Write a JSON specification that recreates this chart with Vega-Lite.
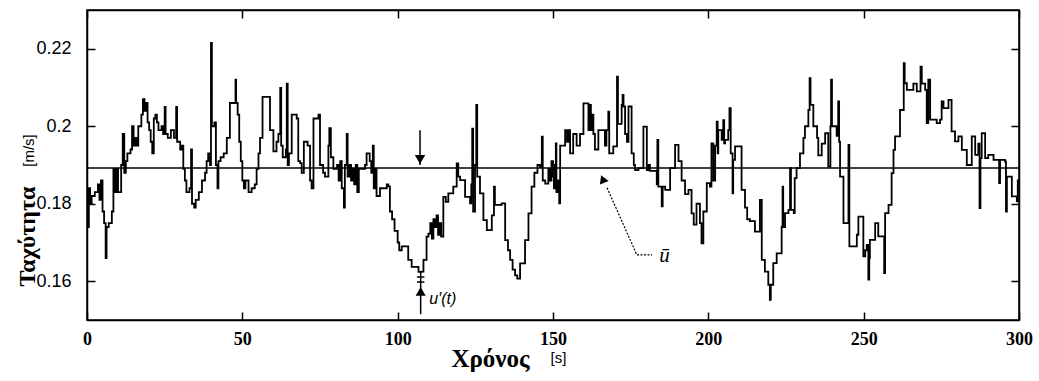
{
  "$schema": "https://vega.github.io/schema/vega-lite/v6.json",
  "width": 932,
  "height": 310,
  "autosize": {"type": "none"},
  "padding": {"left": 87, "top": 10, "right": 20, "bottom": 61},
  "background": "white",
  "view": {"stroke": "black", "strokeWidth": 1.5},
  "config": {
    "axis": {"grid": false, "domainColor": "black", "domainWidth": 1.5, "tickColor": "black", "tickWidth": 1.5, "labelColor": "black", "titleColor": "black"}
  },
  "datasets": {
    "speed": [
      {"t":0,"v":0.181},{"t":0.3,"v":0.174},{"t":0.6,"v":0.184},{"t":1.0,"v":0.180},{"t":1.5,"v":0.182},{"t":2.5,"v":0.183},{"t":3.5,"v":0.185},{"t":4.0,"v":0.181},{"t":4.5,"v":0.186},{"t":5.0,"v":0.178},{"t":5.5,"v":0.175},{"t":6.0,"v":0.166},{"t":6.3,"v":0.174},{"t":7.0,"v":0.175},{"t":8.0,"v":0.178},{"t":8.5,"v":0.189},{"t":9.0,"v":0.183},{"t":9.5,"v":0.189},{"t":10.0,"v":0.183},{"t":11.0,"v":0.190},{"t":11.5,"v":0.198},{"t":12.0,"v":0.188},{"t":12.5,"v":0.191},{"t":13.0,"v":0.193},{"t":14.0,"v":0.194},{"t":14.5,"v":0.200},{"t":15.0,"v":0.195},{"t":15.5,"v":0.197},{"t":16.0,"v":0.195},{"t":16.5,"v":0.200},{"t":17.5,"v":0.203},{"t":18.0,"v":0.207},{"t":18.5,"v":0.204},{"t":19.0,"v":0.206},{"t":19.5,"v":0.201},{"t":20.0,"v":0.199},{"t":20.5,"v":0.196},{"t":21.0,"v":0.193},{"t":21.5,"v":0.202},{"t":22.0,"v":0.203},{"t":22.5,"v":0.201},{"t":23.0,"v":0.199},{"t":24.0,"v":0.200},{"t":24.5,"v":0.198},{"t":25.0,"v":0.205},{"t":25.3,"v":0.198},{"t":26.0,"v":0.197},{"t":27.0,"v":0.199},{"t":28.0,"v":0.197},{"t":28.7,"v":0.205},{"t":29.0,"v":0.196},{"t":30.0,"v":0.194},{"t":30.5,"v":0.195},{"t":31.0,"v":0.189},{"t":31.5,"v":0.186},{"t":32.0,"v":0.183},{"t":33.0,"v":0.184},{"t":33.5,"v":0.194},{"t":33.8,"v":0.180},{"t":34.5,"v":0.179},{"t":35.0,"v":0.181},{"t":36.0,"v":0.183},{"t":37.0,"v":0.186},{"t":38.0,"v":0.188},{"t":38.5,"v":0.191},{"t":39.0,"v":0.193},{"t":39.6,"v":0.190},{"t":39.9,"v":0.2215},{"t":40.2,"v":0.200},{"t":41.0,"v":0.201},{"t":41.5,"v":0.190},{"t":42.0,"v":0.184},{"t":42.3,"v":0.191},{"t":43.0,"v":0.192},{"t":44.0,"v":0.193},{"t":45.0,"v":0.197},{"t":46.0,"v":0.206},{"t":47.0,"v":0.206},{"t":47.8,"v":0.212},{"t":48.0,"v":0.206},{"t":48.5,"v":0.203},{"t":49.0,"v":0.196},{"t":49.5,"v":0.191},{"t":50.0,"v":0.186},
      {"t":50.5,"v":0.184},{"t":51.0,"v":0.186},{"t":52.0,"v":0.183},{"t":53.0,"v":0.184},{"t":54.0,"v":0.185},{"t":54.6,"v":0.189},{"t":55.2,"v":0.193},{"t":55.7,"v":0.197},{"t":56.5,"v":0.2076},{"t":58.9,"v":0.199},{"t":60.0,"v":0.1935},{"t":61.0,"v":0.196},{"t":61.6,"v":0.198},{"t":62.2,"v":0.2099},{"t":62.5,"v":0.195},{"t":63.0,"v":0.192},{"t":64.0,"v":0.194},{"t":64.3,"v":0.211},{"t":64.6,"v":0.190},{"t":65.0,"v":0.193},{"t":65.9,"v":0.203},{"t":67.5,"v":0.202},{"t":68.0,"v":0.191},{"t":68.6,"v":0.1905},{"t":69.1,"v":0.188},{"t":69.8,"v":0.196},{"t":71.0,"v":0.195},{"t":71.8,"v":0.186},{"t":72.3,"v":0.184},{"t":72.9,"v":0.202},{"t":74.5,"v":0.203},{"t":75.0,"v":0.190},{"t":76.0,"v":0.188},{"t":76.6,"v":0.187},{"t":77.7,"v":0.195},{"t":78.0,"v":0.1995},{"t":78.5,"v":0.192},{"t":79.3,"v":0.189},{"t":80.5,"v":0.190},{"t":81.0,"v":0.186},{"t":81.5,"v":0.191},{"t":82.0,"v":0.184},{"t":82.7,"v":0.179},{"t":83.0,"v":0.190},{"t":83.6,"v":0.198},{"t":83.9,"v":0.187},{"t":84.5,"v":0.190},{"t":85.0,"v":0.186},{"t":85.5,"v":0.189},{"t":86.0,"v":0.185},{"t":86.5,"v":0.190},{"t":87.0,"v":0.183},{"t":87.5,"v":0.189},{"t":88.5,"v":0.189},{"t":89.5,"v":0.190},{"t":90.0,"v":0.193},{"t":91.0,"v":0.191},{"t":91.5,"v":0.188},{"t":92.0,"v":0.195},{"t":92.3,"v":0.184},{"t":92.8,"v":0.189},{"t":93.2,"v":0.182},{"t":94.3,"v":0.184},{"t":96.5,"v":0.185},{"t":97.0,"v":0.1845},{"t":97.5,"v":0.178},{"t":98.2,"v":0.176},{"t":99.0,"v":0.173},{"t":100.0,"v":0.170},
      {"t":100.5,"v":0.168},{"t":101.3,"v":0.169},{"t":103.4,"v":0.1655},{"t":104.5,"v":0.1637},{"t":106.7,"v":0.1624},{"t":107.7,"v":0.1625},{"t":108.3,"v":0.1655},{"t":109.3,"v":0.1715},{"t":109.9,"v":0.1723},{"t":110.5,"v":0.175},{"t":111.0,"v":0.171},{"t":111.5,"v":0.176},{"t":112.0,"v":0.174},{"t":112.5,"v":0.177},{"t":113.0,"v":0.172},{"t":113.5,"v":0.175},{"t":114.0,"v":0.1715},{"t":114.7,"v":0.1818},{"t":115.5,"v":0.1805},{"t":116.3,"v":0.1827},{"t":117.9,"v":0.1844},{"t":119.0,"v":0.1904},{"t":119.5,"v":0.187},{"t":120.1,"v":0.1861},{"t":121.7,"v":0.1818},{"t":123.3,"v":0.1801},{"t":123.7,"v":0.185},{"t":124.0,"v":0.1994},{"t":124.3,"v":0.178},{"t":124.9,"v":0.19},{"t":125.3,"v":0.2055},{"t":125.6,"v":0.187},{"t":126.5,"v":0.1827},{"t":127.6,"v":0.1758},{"t":128.7,"v":0.1732},{"t":130.3,"v":0.177},{"t":131.0,"v":0.1844},{"t":131.3,"v":0.1797},{"t":133.5,"v":0.1801},{"t":134.6,"v":0.1706},{"t":135.5,"v":0.168},{"t":136.2,"v":0.1655},{"t":137.0,"v":0.163},{"t":137.8,"v":0.1615},{"t":138.5,"v":0.1607},{"t":139.4,"v":0.1646},{"t":141.0,"v":0.1706},{"t":142.1,"v":0.1775},{"t":143.1,"v":0.1844},{"t":144.0,"v":0.188},{"t":145.0,"v":0.190},{"t":145.8,"v":0.1895},{"t":146.4,"v":0.1973},{"t":146.7,"v":0.186},{"t":147.5,"v":0.1852},{"t":148.5,"v":0.189},{"t":149.0,"v":0.186},{"t":149.5,"v":0.191},{"t":150.0,"v":0.187},
      {"t":150.3,"v":0.184},{"t":150.6,"v":0.190},{"t":150.9,"v":0.1956},{"t":151.1,"v":0.183},{"t":151.6,"v":0.186},{"t":152.0,"v":0.1801},{"t":152.3,"v":0.195},{"t":153.9,"v":0.199},{"t":154.5,"v":0.196},{"t":155.0,"v":0.199},{"t":155.5,"v":0.193},{"t":156.5,"v":0.198},{"t":157.6,"v":0.195},{"t":158.7,"v":0.198},{"t":159.8,"v":0.2059},{"t":161.4,"v":0.199},{"t":161.7,"v":0.2055},{"t":162.2,"v":0.199},{"t":162.7,"v":0.203},{"t":163.0,"v":0.198},{"t":163.5,"v":0.194},{"t":164.6,"v":0.199},{"t":166.7,"v":0.195},{"t":167.2,"v":0.199},{"t":167.8,"v":0.2038},{"t":168.1,"v":0.193},{"t":169.4,"v":0.1948},{"t":170.6,"v":0.2128},{"t":170.9,"v":0.2006},{"t":172.1,"v":0.2055},{"t":172.4,"v":0.2081},{"t":172.7,"v":0.2051},{"t":173.2,"v":0.198},{"t":173.8,"v":0.196},{"t":174.3,"v":0.2051},{"t":175.3,"v":0.193},{"t":176.0,"v":0.190},{"t":176.4,"v":0.1887},{"t":177.5,"v":0.1892},{"t":179.1,"v":0.1999},{"t":180.2,"v":0.1887},{"t":180.8,"v":0.190},{"t":181.2,"v":0.1885},{"t":183.4,"v":0.185},{"t":183.6,"v":0.1965},{"t":183.9,"v":0.1844},{"t":185.0,"v":0.1793},{"t":185.3,"v":0.1844},{"t":186.1,"v":0.1836},{"t":187.7,"v":0.1892},{"t":189.3,"v":0.1952},{"t":190.4,"v":0.191},{"t":191.4,"v":0.186},{"t":192.5,"v":0.1825},{"t":193.6,"v":0.1836},{"t":194.6,"v":0.1775},{"t":195.3,"v":0.1746},{"t":196.2,"v":0.180},{"t":197.3,"v":0.175},{"t":197.8,"v":0.1698},{"t":198.4,"v":0.178},{"t":199.5,"v":0.1853},{"t":200.5,"v":0.1844},{"t":201.0,"v":0.1956},
      {"t":201.6,"v":0.186},{"t":202.2,"v":0.195},{"t":202.7,"v":0.2012},{"t":203.0,"v":0.193},{"t":203.2,"v":0.199},{"t":204.3,"v":0.1965},{"t":204.8,"v":0.2016},{"t":205.1,"v":0.1956},{"t":205.4,"v":0.1965},{"t":206.4,"v":0.199},{"t":206.8,"v":0.2047},{"t":207.2,"v":0.193},{"t":207.8,"v":0.1827},{"t":208.0,"v":0.1913},{"t":208.6,"v":0.1948},{"t":210.7,"v":0.1836},{"t":211.8,"v":0.179},{"t":212.5,"v":0.176},{"t":213.4,"v":0.1755},{"t":215.0,"v":0.1728},{"t":216.6,"v":0.181},{"t":217.2,"v":0.1655},{"t":218.2,"v":0.1625},{"t":219.3,"v":0.1591},{"t":219.8,"v":0.1552},{"t":220.1,"v":0.1591},{"t":220.9,"v":0.1647},{"t":222.0,"v":0.1672},{"t":223.6,"v":0.1741},{"t":223.9,"v":0.1844},{"t":224.1,"v":0.174},{"t":224.7,"v":0.1776},{"t":225.8,"v":0.1784},{"t":226.3,"v":0.1892},{"t":226.6,"v":0.1784},{"t":227.5,"v":0.1776},{"t":227.8,"v":0.1866},{"t":228.4,"v":0.1892},{"t":229.5,"v":0.193},{"t":230.6,"v":0.197},{"t":231.1,"v":0.2},{"t":232.2,"v":0.2042},{"t":232.6,"v":0.2124},{"t":232.9,"v":0.2055},{"t":233.8,"v":0.2},{"t":235.0,"v":0.197},{"t":235.4,"v":0.1925},{"t":236.5,"v":0.1955},{"t":237.6,"v":0.1982},{"t":238.6,"v":0.1896},{"t":239.3,"v":0.2},{"t":239.5,"v":0.212},{"t":239.8,"v":0.2},{"t":241.3,"v":0.1975},{"t":241.8,"v":0.2064},{"t":242.1,"v":0.196},{"t":242.4,"v":0.187},{"t":243.5,"v":0.175},{"t":245.1,"v":0.1952},{"t":245.4,"v":0.169},{"t":247.8,"v":0.172},{"t":248.3,"v":0.1767},{"t":249.9,"v":0.1664},{"t":250.5,"v":0.168},
      {"t":251.0,"v":0.1694},{"t":251.5,"v":0.1604},{"t":251.8,"v":0.166},{"t":252.0,"v":0.1707},{"t":253.7,"v":0.175},{"t":254.7,"v":0.1716},{"t":256.6,"v":0.1621},{"t":256.9,"v":0.1776},{"t":258.0,"v":0.1797},{"t":259.0,"v":0.1879},{"t":259.6,"v":0.1939},{"t":260.1,"v":0.1974},{"t":261.7,"v":0.2042},{"t":262.9,"v":0.2163},{"t":263.2,"v":0.2111},{"t":263.9,"v":0.2094},{"t":266.0,"v":0.211},{"t":267.1,"v":0.209},{"t":268.3,"v":0.2154},{"t":268.7,"v":0.211},{"t":269.8,"v":0.2094},{"t":270.3,"v":0.2008},{"t":270.8,"v":0.212},{"t":271.4,"v":0.2017},{"t":273.5,"v":0.2008},{"t":274.6,"v":0.2017},{"t":275.1,"v":0.2064},{"t":275.7,"v":0.2047},{"t":277.3,"v":0.2068},{"t":278.3,"v":0.1987},{"t":279.4,"v":0.1961},{"t":280.5,"v":0.1974},{"t":281.6,"v":0.1939},{"t":283.2,"v":0.19},{"t":284.8,"v":0.1974},{"t":285.9,"v":0.1926},{"t":286.9,"v":0.1955},{"t":287.3,"v":0.1789},{"t":287.6,"v":0.1918},{"t":288.0,"v":0.1982},{"t":289.1,"v":0.1918},{"t":290.1,"v":0.1926},{"t":291.8,"v":0.1913},{"t":293.6,"v":0.1853},{"t":293.9,"v":0.1913},{"t":295.5,"v":0.1909},{"t":295.8,"v":0.178},{"t":296.1,"v":0.187},{"t":297.7,"v":0.1819},{"t":299.3,"v":0.1806},{"t":299.6,"v":0.186},{"t":300,"v":0.184}
    ],
    "mean": [{"v": 0.1892}],
    "downArrow": [{"t": 107.2, "v": 0.1990, "v2": 0.1900}],
    "downHead": [{"t": 107.2, "v": 0.1914}],
    "uStem": [{"t": 107.4, "v": 0.1515, "v2": 0.1625}],
    "uBars": [{"t": 106.2, "t2": 108.6, "v": 0.1611}, {"t": 106.2, "t2": 108.6, "v": 0.1598}],
    "uHead": [{"t": 107.4, "v": 0.1574}],
    "uLabel": [{"t": 110.2, "v": 0.1553, "label": "u′(t)"}],
    "leader": [{"t": 167.4, "v": 0.1841, "o": 1}, {"t": 177.0, "v": 0.1668, "o": 2}, {"t": 181.9, "v": 0.1668, "o": 3}],
    "leaderHead": [{"t": 166.0, "v": 0.1864}],
    "meanLabel": [{"t": 184.2, "v": 0.1666, "label": "ū"}]
  },
  "layer": [
    {
      "data": {"name": "speed"},
      "mark": {"type": "line", "interpolate": "step-after", "color": "black", "strokeWidth": 1.8},
      "encoding": {
        "x": {"field": "t", "type": "quantitative", "scale": {"domain": [0, 300], "nice": false, "zero": false},
          "axis": {"orient": "bottom", "values": [0, 50, 100, 150, 200, 250, 300], "tickSize": -8, "labelFont": "Liberation Serif", "labelFontWeight": "bold", "labelFontSize": 18, "labelPadding": 18, "labelFlush": false,
            "title": "Χρόνος", "titleColor": "black", "titleFont": "Liberation Serif", "titleFontWeight": "bold", "titleFontSize": 25, "titleX": 403, "titleY": 38, "titleBaseline": "middle", "titleAlign": "center"}},
        "y": {"field": "v", "type": "quantitative", "scale": {"domain": [0.15, 0.23], "nice": false, "zero": false},
          "axis": {"orient": "left", "values": [0.16, 0.18, 0.2, 0.22], "format": ".2~f", "tickSize": -8, "labelFont": "Liberation Sans", "labelFontSize": 18, "labelPadding": 24,
            "title": "Ταχύτητα", "titleColor": "black", "titleFont": "Liberation Serif", "titleFontWeight": "bold", "titleFontSize": 24, "titleX": -60, "titleY": 226, "titleBaseline": "middle", "titleAlign": "center", "titleAngle": 270}}
      }
    },
    {
      "data": {"name": "mean"},
      "mark": {"type": "rule", "color": "black", "strokeWidth": 1.5},
      "encoding": {"y": {"field": "v", "type": "quantitative", "axis": null}}
    },
    {
      "data": {"name": "downArrow"},
      "mark": {"type": "rule", "color": "black", "strokeWidth": 1.5},
      "encoding": {
        "x": {"field": "t", "type": "quantitative", "axis": {"orient": "top", "values": [0, 50, 100, 150, 200, 250, 300], "tickSize": -8, "labels": false, "title": null, "offset": 0}},
        "y": {"field": "v", "type": "quantitative", "axis": {"orient": "right", "values": [0.16, 0.18, 0.2, 0.22], "tickSize": -8, "labels": false, "title": null, "offset": 0}},
        "y2": {"field": "v2"}
      }
    },
    {
      "data": {"name": "downHead"},
      "mark": {"type": "point", "shape": "triangle-down", "filled": true, "color": "black", "size": 110, "opacity": 1},
      "encoding": {"x": {"field": "t", "type": "quantitative", "axis": null}, "y": {"field": "v", "type": "quantitative", "axis": null}}
    },
    {
      "data": {"name": "uStem"},
      "mark": {"type": "rule", "color": "black", "strokeWidth": 1.5},
      "encoding": {"x": {"field": "t", "type": "quantitative", "axis": null}, "y": {"field": "v", "type": "quantitative", "axis": null}, "y2": {"field": "v2"}}
    },
    {
      "data": {"name": "uBars"},
      "mark": {"type": "rule", "color": "black", "strokeWidth": 1.5},
      "encoding": {"x": {"field": "t", "type": "quantitative", "axis": null}, "x2": {"field": "t2"}, "y": {"field": "v", "type": "quantitative", "axis": null}}
    },
    {
      "data": {"name": "uHead"},
      "mark": {"type": "point", "shape": "triangle-up", "filled": true, "color": "black", "size": 100, "opacity": 1},
      "encoding": {"x": {"field": "t", "type": "quantitative", "axis": null}, "y": {"field": "v", "type": "quantitative", "axis": null}}
    },
    {
      "data": {"name": "uLabel"},
      "mark": {"type": "text", "align": "left", "baseline": "middle", "font": "Liberation Sans", "fontStyle": "italic", "fontSize": 16, "color": "black"},
      "encoding": {
        "x": {"field": "t", "type": "quantitative", "axis": {"orient": "bottom", "offset": 0, "domain": false, "ticks": false, "labels": false, "title": "[s]", "titleColor": "black", "titleFont": "Liberation Sans", "titleFontWeight": "normal", "titleFontSize": 15, "titleX": 471, "titleY": 37, "titleBaseline": "middle", "titleAlign": "center"}},
        "y": {"field": "v", "type": "quantitative", "axis": {"orient": "left", "offset": 0, "domain": false, "ticks": false, "labels": false, "title": "[m/s]", "titleColor": "black", "titleFont": "Liberation Sans", "titleFontWeight": "normal", "titleFontSize": 15, "titleX": -59, "titleY": 140, "titleBaseline": "middle", "titleAlign": "center", "titleAngle": 270}},
        "text": {"field": "label"}
      }
    },
    {
      "data": {"name": "leader"},
      "mark": {"type": "line", "color": "black", "strokeWidth": 1.2, "strokeDash": [2, 1.5]},
      "encoding": {"x": {"field": "t", "type": "quantitative", "axis": null}, "y": {"field": "v", "type": "quantitative", "axis": null}, "order": {"field": "o"}}
    },
    {
      "data": {"name": "leaderHead"},
      "mark": {"type": "point", "shape": "triangle-up", "filled": true, "color": "black", "size": 90, "opacity": 1, "angle": 337},
      "encoding": {"x": {"field": "t", "type": "quantitative", "axis": null}, "y": {"field": "v", "type": "quantitative", "axis": null}}
    },
    {
      "data": {"name": "meanLabel"},
      "mark": {"type": "text", "align": "left", "baseline": "middle", "font": "Liberation Serif", "fontStyle": "italic", "fontSize": 21, "color": "black"},
      "encoding": {"x": {"field": "t", "type": "quantitative", "axis": null}, "y": {"field": "v", "type": "quantitative", "axis": null}, "text": {"field": "label"}}
    }
  ],
  "resolve": {"axis": {"x": "independent", "y": "independent"}}
}
